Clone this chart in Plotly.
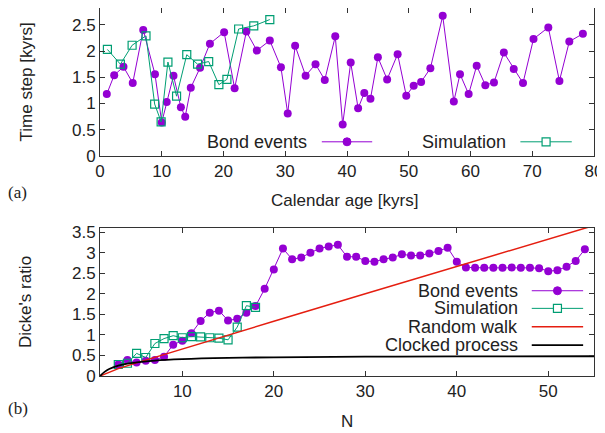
import plotly.graph_objects as go

# ---------------- data ----------------
# Panel (a): time step vs calendar age
bond_age = [1.1, 2.3, 3.8, 5.3, 7.0, 8.9, 10.0, 10.8, 11.9, 13.1, 13.8, 14.7, 16.2, 17.8,
            20.1, 21.8, 23.7, 25.4, 27.5, 29.3, 30.4, 31.6, 33.3, 34.9, 36.4, 38.1, 39.3,
            40.6, 41.8, 42.8, 43.8, 45.0, 46.5, 48.2, 49.6, 50.8, 52.0, 53.5, 55.5, 57.3,
            58.3, 59.7, 61.0, 62.4, 63.8, 65.4, 67.0, 68.5, 70.2, 72.6, 74.4, 76.0, 78.2]
bond_step = [1.18, 1.54, 1.70, 1.39, 2.40, 1.56, 0.64, 1.03, 1.53, 0.93, 0.75, 1.30, 1.68,
             2.14, 2.36, 1.29, 2.37, 2.01, 2.20, 1.69, 0.81, 2.10, 1.53, 1.75, 1.45, 2.28,
             0.60, 1.78, 0.91, 1.20, 1.09, 1.88, 1.46, 1.94, 1.15, 1.34, 1.41, 1.67, 2.67,
             1.04, 1.56, 1.18, 1.72, 1.35, 1.40, 1.97, 1.66, 1.39, 2.23, 2.45, 1.43, 2.18, 2.33]
sim_age = [1.2, 3.3, 5.2, 7.45, 8.85, 9.9, 11.0, 12.4, 14.05, 15.8, 17.6, 19.25, 20.55,
           22.45, 24.9, 27.5]
sim_step = [2.03, 1.75, 2.11, 2.29, 0.99, 0.65, 1.79, 1.14, 1.93, 1.75, 1.80, 1.36, 1.46,
            2.42, 2.48, 2.60]

# Panel (b): Dicke's ratio vs N
bond_N = list(range(3, 55))
bond_ratio = [0.28, 0.39, 0.33, 0.37, 0.39, 0.47, 0.76, 0.86, 1.04, 1.34, 1.54, 1.59, 1.35,
              1.39, 1.54, 1.70, 2.12, 2.59, 3.10, 2.84, 2.88, 3.00, 3.10, 3.15, 3.19, 2.90,
              2.90, 2.80, 2.78, 2.84, 2.88, 2.96, 2.93, 2.93, 2.98, 3.04, 3.12, 2.78, 2.64,
              2.63, 2.63, 2.63, 2.63, 2.64, 2.63, 2.63, 2.62, 2.55, 2.57, 2.66, 2.80, 3.08]
sim_N = list(range(3, 19))
sim_ratio = [0.28, 0.31, 0.55, 0.45, 0.79, 0.91, 0.98, 0.93, 0.96, 0.95, 0.93, 0.92, 0.88,
             1.19, 1.71, 1.67]
rw_N = [1, 2, 3, 5, 10, 20, 30, 40, 50, 55]
rw_ratio = [0.0, 0.10, 0.18, 0.32, 0.66, 1.33, 2.00, 2.66, 3.33, 3.66]
clk_N = [1, 1.5, 2, 3, 4, 5, 7, 10, 15, 20, 30, 40, 55]
clk_ratio = [0.0, 0.10, 0.17, 0.25, 0.30, 0.33, 0.375, 0.41, 0.44, 0.455, 0.47, 0.475, 0.48]

# tick labels
a_xticks = [0, 10, 20, 30, 40, 50, 60, 70, 80]
a_yticks = [0, 0.5, 1, 1.5, 2, 2.5]
a_ylabels = ["0", "0.5", "1", "1.5", "2", "2.5"]
b_xticks = [10, 20, 30, 40, 50]
b_yticks = [0, 0.5, 1, 1.5, 2, 2.5, 3, 3.5]
b_ylabels = ["0", "0.5", "1", "1.5", "2", "2.5", "3", "3.5"]

# ---------------- styles ----------------
PURPLE = "#9400D3"
GREEN = "#009E73"
RED = "#E51E10"
BLACK = "#000000"
FONT = "Liberation Sans"

fig = go.Figure()

fig.add_trace(go.Scatter(x=bond_age, y=bond_step, mode="lines+markers", xaxis="x", yaxis="y",
                         line=dict(color=PURPLE, width=1),
                         marker=dict(symbol="circle", size=8, color=PURPLE),
                         showlegend=False))
fig.add_trace(go.Scatter(x=sim_age, y=sim_step, mode="lines+markers", xaxis="x", yaxis="y",
                         line=dict(color=GREEN, width=1),
                         marker=dict(symbol="square-open", size=8, color=GREEN,
                                     line=dict(width=1.2, color=GREEN)),
                         showlegend=False))

fig.add_trace(go.Scatter(x=bond_N, y=bond_ratio, mode="lines+markers", xaxis="x2", yaxis="y2",
                         line=dict(color=PURPLE, width=1),
                         marker=dict(symbol="circle", size=8, color=PURPLE),
                         showlegend=False))
fig.add_trace(go.Scatter(x=sim_N, y=sim_ratio, mode="lines+markers", xaxis="x2", yaxis="y2",
                         line=dict(color=GREEN, width=1),
                         marker=dict(symbol="square-open", size=8, color=GREEN,
                                     line=dict(width=1.2, color=GREEN)),
                         showlegend=False))
fig.add_trace(go.Scatter(x=rw_N, y=rw_ratio, mode="lines", xaxis="x2", yaxis="y2",
                         line=dict(color=RED, width=1.5), showlegend=False))
fig.add_trace(go.Scatter(x=clk_N, y=clk_ratio, mode="lines", xaxis="x2", yaxis="y2",
                         line=dict(color=BLACK, width=1.8, shape="spline"), showlegend=False))

axis_common = dict(showline=True, linecolor="#333333", linewidth=1, mirror="allticks",
                   ticks="inside", ticklen=5, tickcolor="#333333", showgrid=False,
                   zeroline=False, automargin=False,
                   tickfont=dict(family=FONT, size=17, color="#222222"))

# the page body adds an 8 px offset, so the figure is sized to fill the rest of the window
fig.update_layout(
    width=597, height=425,
    margin=dict(l=92, r=11, t=0, b=57, pad=0),
    paper_bgcolor="white", plot_bgcolor="white",
    xaxis=dict(domain=[0, 1], anchor="y", range=[0, 80], tickvals=a_xticks, **axis_common),
    yaxis=dict(domain=[0.5978, 1], anchor="x", range=[0, 2.82], tickvals=a_yticks,
               ticktext=a_ylabels, **axis_common),
    xaxis2=dict(domain=[0, 1], anchor="y2", range=[1, 55], tickvals=b_xticks, **axis_common),
    yaxis2=dict(domain=[0, 0.4022], anchor="x2", range=[0, 3.6], tickvals=b_yticks,
                ticktext=b_ylabels, **axis_common),
    showlegend=False,
)

annos = []
def txt(text, x, y, size=17, angle=0, xanchor="center", family=FONT, xref="paper", yref="paper"):
    annos.append(dict(text=text, x=x, y=y, xref=xref, yref=yref, showarrow=False,
                      textangle=angle, xanchor=xanchor, yanchor="middle",
                      font=dict(family=family, size=size, color="#222222")))

txt("Time step [kyrs]", -0.148, 0.800, angle=-90)
txt("Dicke's ratio", -0.152, 0.201, angle=-90)
txt("Calendar age [kyrs]", 0.494, 0.478)
txt("N", 0.499, -0.124)
txt("(a)", -0.166, 0.500, family="Liberation Serif")
txt("(b)", -0.166, -0.087, family="Liberation Serif")

# legend (gnuplot style: text, then sample)
shapes = []
def key(text, xr, ydom, x0, x1, color, width, symbol, xref, yref):
    txt(text, xr, ydom, size=18, xanchor="right", xref=xref, yref=yref)
    shapes.append(dict(type="line", xref=xref, yref=yref, x0=x0, x1=x1, y0=ydom, y1=ydom,
                       line=dict(color=color, width=width)))
    xm = (x0 + x1) / 2
    if symbol == "circle":
        shapes.append(dict(type="circle", xref=xref, yref=yref, xsizemode="pixel",
                           ysizemode="pixel", xanchor=xm, yanchor=ydom,
                           x0=-4, x1=4, y0=-4, y1=4, fillcolor=color,
                           line=dict(color=color, width=1)))
    elif symbol == "square":
        shapes.append(dict(type="rect", xref=xref, yref=yref, xsizemode="pixel",
                           ysizemode="pixel", xanchor=xm, yanchor=ydom,
                           x0=-4, x1=4, y0=-4, y1=4, fillcolor="white",
                           line=dict(color=color, width=1.2)))

key("Bond events", 0.423, 0.096, 0.449, 0.551, PURPLE, 1, "circle", "x domain", "y domain")
key("Simulation", 0.826, 0.096, 0.851, 0.955, GREEN, 1, "square", "x domain", "y domain")
key("Bond events", 0.850, 0.576, 0.874, 0.978, PURPLE, 1, "circle", "x2 domain", "y2 domain")
key("Simulation", 0.850, 0.457, 0.874, 0.978, GREEN, 1, "square", "x2 domain", "y2 domain")
key("Random walk", 0.850, 0.333, 0.874, 0.978, RED, 1.5, None, "x2 domain", "y2 domain")
key("Clocked process", 0.850, 0.209, 0.874, 0.978, BLACK, 1.8, None, "x2 domain", "y2 domain")

fig.update_layout(annotations=annos, shapes=shapes)

fig.write_html("out.html")
